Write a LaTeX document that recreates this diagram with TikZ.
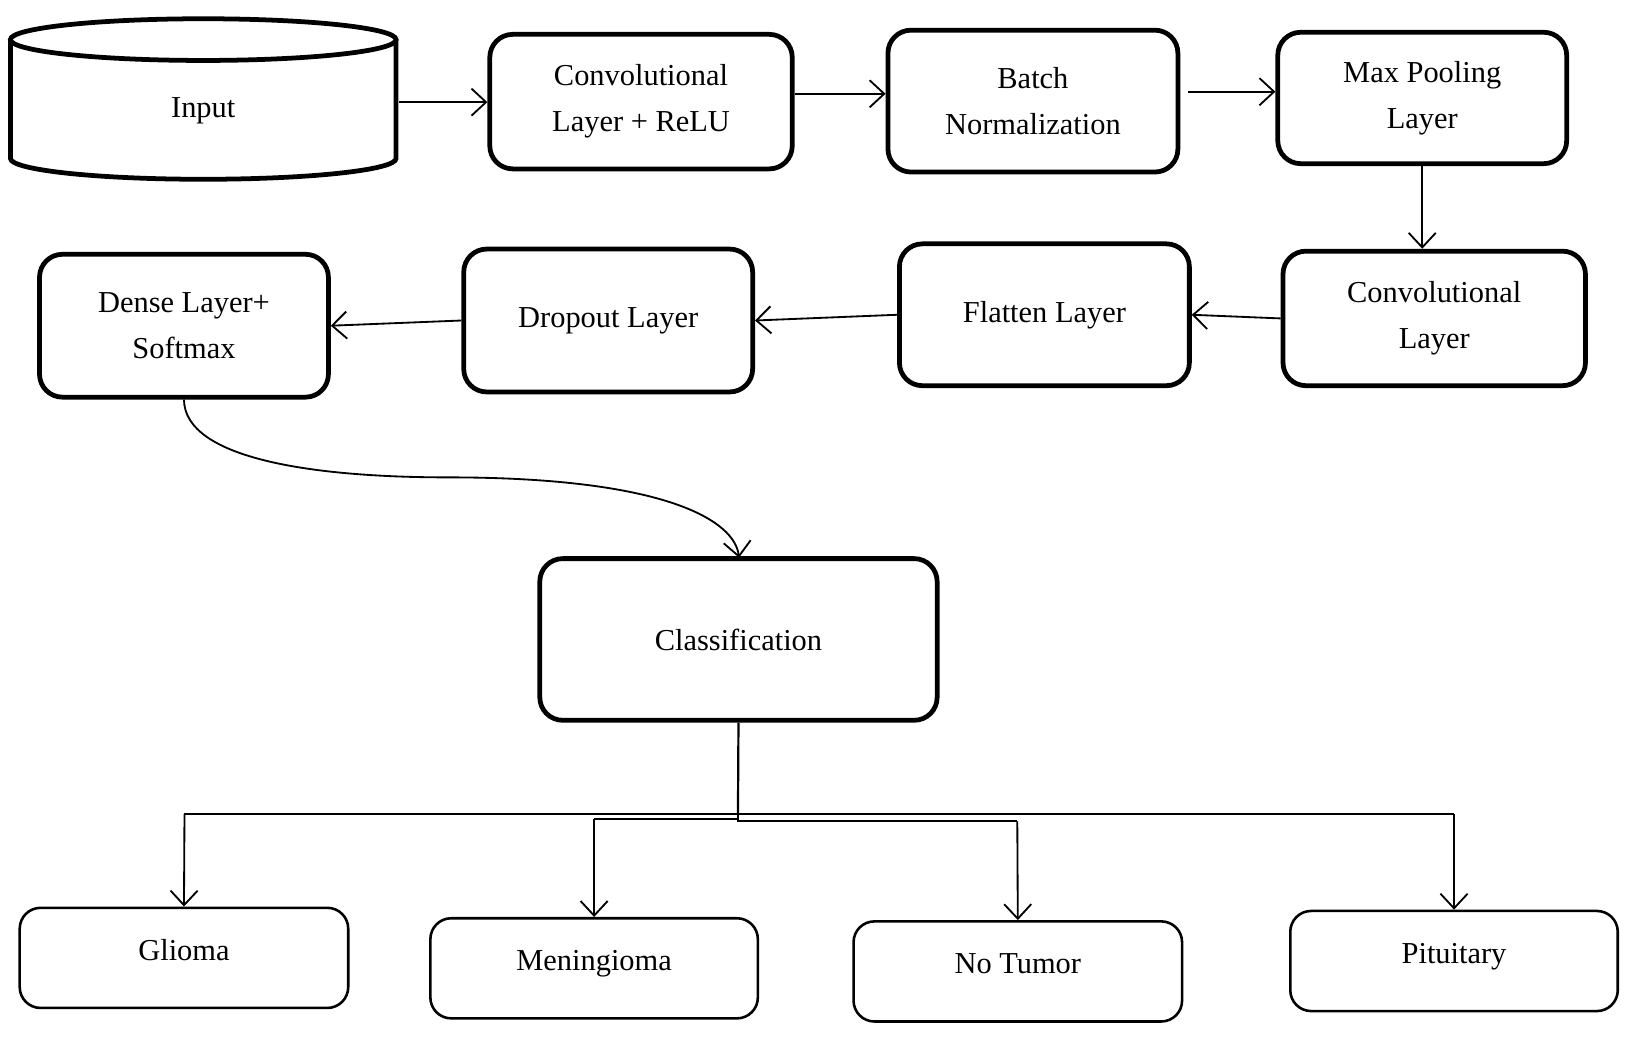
\documentclass[tikz,border=0pt]{standalone}
\usepackage{fontspec}
\setmainfont{Liberation Serif}
\usetikzlibrary{arrows.meta,shapes.geometric}
\begin{document}
\begin{tikzpicture}[x=0.01cm,y=-0.01cm,
  tb/.style={draw,line width=1.3pt,rounded corners=0.22cm,align=center,font=\fontsize{8.3}{12.6}\selectfont,inner sep=0pt},
  bb/.style={draw,line width=0.7pt,rounded corners=0.2cm,align=center,font=\fontsize{8.3}{12}\selectfont,inner sep=0pt},
  ar/.style={-{Straight Barb[length=0.14cm,width=0.26cm,line width=0.5pt]},line width=0.5pt},
  ln/.style={line width=0.6pt}]
\useasboundingbox (0,0) rectangle (1560,997);
% Input cylinder
\draw[line width=1.3pt] (10,38) -- (10,152) arc[start angle=180,end angle=0,x radius=185,y radius=20] -- (380,38);
\draw[line width=1.3pt] (195,38) ellipse[x radius=185,y radius=20];
\node[font=\fontsize{8.3}{12}\selectfont] (in) at (195,106) {Input};
\coordinate (inr) at (383,98);
\node[tb,minimum width=2.9cm,minimum height=1.29cm] (c1) at (615,97.5) {Convolutional\\Layer + ReLU};
\node[tb,minimum width=2.78cm,minimum height=1.36cm] (bn) at (991,97) {Batch\\Normalization};
\node[tb,minimum width=2.77cm,minimum height=1.26cm] (mp) at (1364.5,94) {Max Pooling\\Layer};
\node[tb,minimum width=2.9cm,minimum height=1.29cm] (c2) at (1376,305.5) {Convolutional\\Layer};
\node[tb,minimum width=2.78cm,minimum height=1.36cm] (fl) at (1002,302) {Flatten Layer};
\node[tb,minimum width=2.77cm,minimum height=1.37cm] (dr) at (583.5,307.5) {Dropout Layer};
\node[tb,minimum width=2.77cm,minimum height=1.37cm] (de) at (176.5,312.5) {Dense Layer+\\Softmax};
\node[tb,minimum width=3.81cm,minimum height=1.55cm] (cl) at (708.5,613.5) {Classification};
\node[bb,minimum width=3.15cm,minimum height=0.96cm] (g) at (176.5,919) {\raisebox{0.15cm}{Glioma}};
\node[bb,minimum width=3.14cm,minimum height=0.96cm] (m) at (570,929) {\raisebox{0.15cm}{Meningioma}};
\node[bb,minimum width=3.15cm,minimum height=0.96cm] (n) at (976.5,932) {\raisebox{0.15cm}{No Tumor}};
\node[bb,minimum width=3.14cm,minimum height=0.96cm] (p) at (1395,922) {\raisebox{0.15cm}{Pituitary}};
% arrows
\draw[ar] (inr) -- (c1.west |- inr);
\draw[ar] (763,90) -- (bn.west |- 0,90);
\draw[ar] (1140,88) -- (mp.west |- 0,88);
\draw[ar] (mp.south) -- (c2.north -| mp.south);
\draw[ar] (c2.west) -- (fl.east);
\draw[ar] (fl.west) -- (dr.east);
\draw[ar] (dr.west) -- (de.east);
\draw[ar] (de.south) .. controls (177,440) and (300,458) .. (430,458) .. controls (640,458) and (705,500) .. (709,535);
% tree
\coordinate (j) at (708,781);
\draw[ln] (cl.south) -- (j);
\draw[ln] (177,781) -- (1395,781);
\draw[ar] (177,781) -- (g.north);
\draw[ar] (1395,781) -- (p.north);
\draw[ln] (708,786) -- (570,786);
\draw[ar] (570,786) -- (m.north);
\draw[ln] (708,781) -- (708,788) -- (976,788);
\draw[ar] (976,788) -- (n.north);
\end{tikzpicture}
\end{document}
